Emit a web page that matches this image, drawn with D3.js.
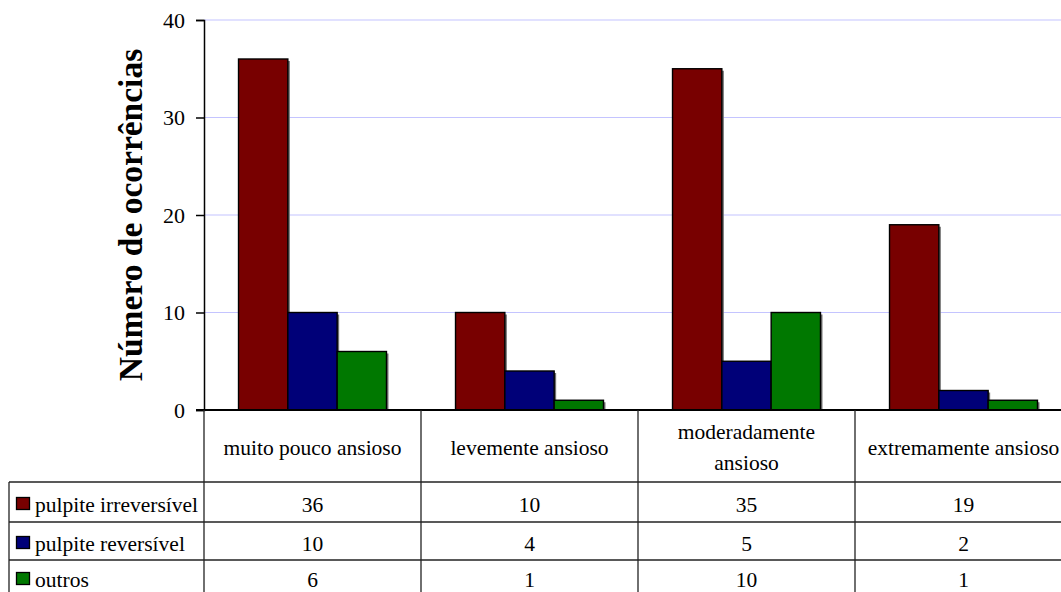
<!DOCTYPE html>
<html>
<head>
<meta charset="utf-8">
<script src="https://cdn.jsdelivr.net/npm/d3@7"></script>
<style>
  html, body { margin: 0; padding: 0; background: #fff; }
  svg { display: block; }
  text { font-family: "Liberation Serif", "Times New Roman", Times, serif; fill: #000; }
</style>
</head>
<body>
<svg id="chart" width="1061" height="592"></svg>
<script>
// Anxiety level categories and occurrence counts per diagnosis
const categories = ["muito pouco ansioso", "levemente ansioso", "moderadamente ansioso", "extremamente ansioso"];
const categoryLines = [["muito pouco ansioso"], ["levemente ansioso"], ["moderadamente", "ansioso"], ["extremamente ansioso"]];
const seriesNames = ["pulpite irreversível", "pulpite reversível", "outros"];
const irreversivel = [36, 10, 35, 19];
const reversivel = [10, 4, 5, 2];
const outros = [6, 1, 10, 1];
const yTicks = [0, 10, 20, 30, 40];
const colors = ["#780000", "#000078", "#007800"];

const seriesValues = [irreversivel, reversivel, outros];

const svg = d3.select("#chart");
const W = 1061;
const FONT = "Liberation Serif, Times New Roman, Times, serif";
const FS = 21.5;

const plotLeft = 204, catW = 217;
const yTop = 20, yBottom = 410;

const x = d3.scaleBand()
  .domain(categories)
  .range([plotLeft, plotLeft + catW * categories.length])
  .paddingInner(0).paddingOuter(0);

const xs = d3.scaleBand()
  .domain(seriesNames)
  .range([0, x.bandwidth()])
  .paddingInner(0).paddingOuter(0.7);

const y = d3.scaleLinear().domain([0, 40]).range([yBottom, yTop]);

// Gridlines
svg.append("g")
  .selectAll("line")
  .data(yTicks.filter(d => d > 0))
  .join("line")
  .attr("x1", plotLeft).attr("x2", W)
  .attr("y1", d => y(d)).attr("y2", d => y(d))
  .attr("stroke", "#c4c4ff").attr("stroke-width", 1.2);

// Y axis
const yAxis = d3.axisLeft(y).tickValues(yTicks).tickSize(8).tickPadding(11);
const gy = svg.append("g").attr("transform", `translate(${plotLeft},0)`).call(yAxis);
gy.attr("font-family", FONT);
gy.select(".domain").attr("stroke", "#000").attr("stroke-width", 1.5);
gy.selectAll(".tick line").attr("stroke", "#000").attr("stroke-width", 1.5);
gy.selectAll(".tick text")
  .attr("font-family", FONT)
  .attr("font-size", 22).attr("fill", "#000");

// Y axis title
svg.append("text")
  .attr("transform", `translate(142,${(yTop + yBottom) / 2}) rotate(-90)`)
  .attr("text-anchor", "middle")
  .attr("font-size", 33.5)
  .attr("font-weight", "bold")
  .text("Número de ocorrências");

// Bars with a shadow on the right
const barData = [];
categories.forEach((c, i) => {
  seriesNames.forEach((s, j) => {
    barData.push({ cat: c, ser: s, value: seriesValues[j][i], color: colors[j] });
  });
});

const bars = svg.append("g");
bars.selectAll("rect.shadow")
  .data(barData)
  .join("rect")
  .attr("class", "shadow")
  .attr("x", d => x(d.cat) + xs(d.ser) + 2)
  .attr("y", d => y(d.value) + 2)
  .attr("width", xs.bandwidth())
  .attr("height", d => yBottom - y(d.value) - 2)
  .attr("fill", "#707070");
bars.selectAll("rect.bar")
  .data(barData)
  .join("rect")
  .attr("class", "bar")
  .attr("x", d => x(d.cat) + xs(d.ser))
  .attr("y", d => y(d.value))
  .attr("width", xs.bandwidth())
  .attr("height", d => yBottom - y(d.value))
  .attr("fill", d => d.color)
  .attr("stroke", "#000")
  .attr("stroke-width", 1.4);

// Data table below the plot
const tableLeft = 9;
const rowY = [482, 522, 560, 594];
const tbl = svg.append("g").attr("stroke", "#222").attr("stroke-width", 1.3);

// baseline / table top
tbl.append("line").attr("x1", plotLeft - 8).attr("x2", W).attr("y1", yBottom).attr("y2", yBottom)
  .attr("stroke", "#000").attr("stroke-width", 2);
// horizontal row lines
rowY.slice(0, 3).forEach(ry => {
  tbl.append("line").attr("x1", tableLeft).attr("x2", W).attr("y1", ry).attr("y2", ry);
});
// left edge of legend column
tbl.append("line").attr("x1", tableLeft).attr("x2", tableLeft).attr("y1", rowY[0]).attr("y2", 592);
// category separators
categories.forEach(c => {
  const cx = x(c);
  tbl.append("line").attr("x1", cx).attr("x2", cx).attr("y1", yBottom).attr("y2", 592);
});

// Category labels
const labels = svg.append("g").attr("font-size", FS).attr("text-anchor", "middle");
categories.forEach((c, i) => {
  const lines = categoryLines[i];
  const cx = x(c) + x.bandwidth() / 2;
  const mid = (yBottom + rowY[0]) / 2 + 1;
  const lh = 31;
  lines.forEach((ln, k) => {
    labels.append("text")
      .attr("x", cx)
      .attr("y", mid + (k - (lines.length - 1) / 2) * lh)
      .attr("dy", "0.35em")
      .text(ln);
  });
});

// Legend rows with keys and values
seriesNames.forEach((s, j) => {
  const cy = (rowY[j] + rowY[j + 1]) / 2 + 2;
  svg.append("rect")
    .attr("x", 16.5).attr("y", cy - 6.5)
    .attr("width", 13).attr("height", 12)
    .attr("fill", colors[j]).attr("stroke", "#000").attr("stroke-width", 1.3);
  svg.append("text")
    .attr("x", 35).attr("y", cy).attr("dy", "0.35em")
    .attr("font-size", FS)
    .text(s);
  categories.forEach((c, i) => {
    svg.append("text")
      .attr("x", x(c) + x.bandwidth() / 2)
      .attr("y", cy).attr("dy", "0.35em")
      .attr("text-anchor", "middle")
      .attr("font-size", FS)
      .text(seriesValues[j][i]);
  });
});
</script>
</body>
</html>
